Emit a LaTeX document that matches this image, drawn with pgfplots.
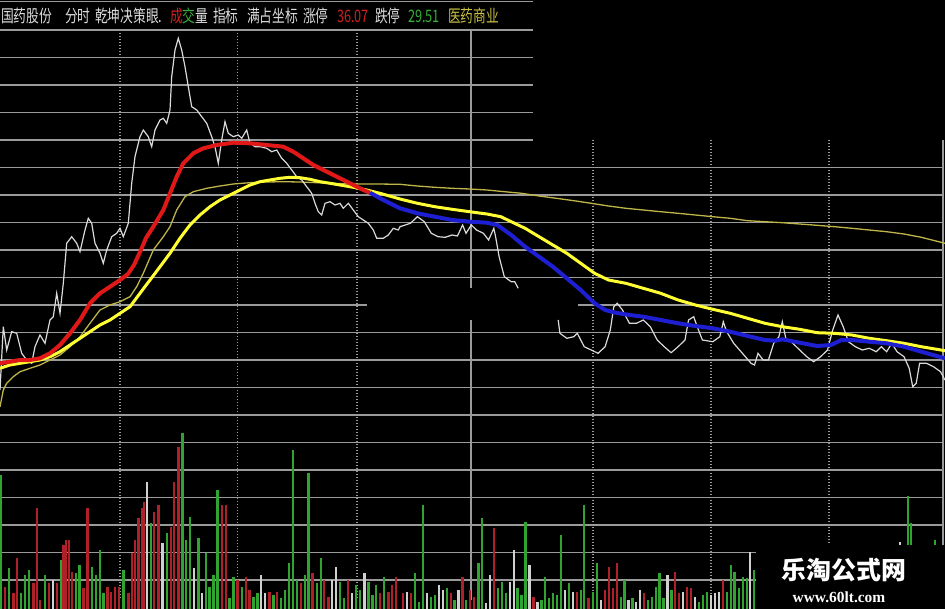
\documentclass[border=0pt]{standalone}
\usepackage{pgfplots}
\pgfplotsset{compat=1.18}
\usepackage{fontspec}
\newfontfamily\cjk{Noto Sans CJK SC}
\newfontfamily\wmserif{Liberation Serif}
\definecolor{gridc}{HTML}{9A9A9A}
\definecolor{pricec}{HTML}{DADADA}
\definecolor{redl}{HTML}{E01818}
\definecolor{bluel}{HTML}{1E1ED2}
\definecolor{yell}{HTML}{FFFF33}
\definecolor{olivel}{HTML}{BDB548}
\definecolor{volr}{HTML}{B02028}
\definecolor{volg}{HTML}{2FA52F}
\definecolor{volw}{HTML}{D0D0D0}
\definecolor{hdr}{HTML}{DCDCDC}
\definecolor{hred}{HTML}{D02020}
\definecolor{hgreen}{HTML}{38B038}
\definecolor{hyel}{HTML}{C8C040}
\begin{document}
\begin{tikzpicture}
\fill[black] (0,0) rectangle (945bp,609bp);
\begin{scope}[yshift=609bp,x=1bp,y=-1bp,color=gridc,line width=1.6bp]
 \foreach \y in {1.5,30,57.5,85,112.5,140} \draw (0,\y) -- (533,\y);
 \foreach \y in {167.5,195,222.5,250,277.5,332.5,360,387.5,415,442.5,470,497.5,525,552.5,580} \draw (0,\y) -- (943,\y);
 \draw (0,305) -- (367,305); \draw (578,305) -- (943,305);
 \foreach \x in {120,237.5,357} \draw[line width=1.3bp, dash pattern=on 1.5bp off 1.5bp] (\x,30) -- (\x,600);
 \foreach \x in {593,711,829} \draw[line width=1.3bp, dash pattern=on 1.5bp off 1.5bp] (\x,140) -- (\x,600);
 \draw (471,30) -- (471,288); \draw (471,320) -- (471,600);
 \draw (943,140) -- (943,609);
\end{scope}
\begin{axis}[scale only axis, width=945bp, height=609bp, xmin=0, xmax=945, ymin=0, ymax=609, y dir=reverse, hide axis]
\addplot[olivel, line width=1.3bp] coordinates {(0,406.7) (3.3,390) (6.7,383.3) (13.3,376.7) (20,371.7) (30,368.3) (40,365) (50,360) (60,355) (70,346.7) (80,336.7) (90,323.3) (100,310) (110,305) (120,301.7) (130,296.7) (136.7,286.7) (143.3,273.3) (153.3,250) (163.3,236.7) (170,226.7) (176.7,210) (185,196.7) (193.3,191.7) (206.7,188.3) (220,186) (233.3,184) (250,182.7) (266.7,182) (283.3,181.7) (300,182) (316.7,182.7) (333.3,183.3) (350,184) (366.7,184) (376.7,184) (400,184.3) (417.4,186) (434.8,187.3) (452.1,188.3) (469.5,189) (486.9,190) (504.3,191.7) (521.7,193.3) (539,196) (556.4,198.3) (573.8,200.7) (591.2,203.3) (608.5,206) (625.9,208.3) (643.3,210) (660.7,211.7) (678.1,213.3) (695.4,215) (712.8,216.7) (730.2,218.3) (747.6,220.7) (765,221.7) (782.3,222.7) (799.7,224) (817.1,225.3) (834.5,226.7) (851.9,228.3) (869.2,230) (886.6,231.7) (904,234) (921.3,237.3) (945,243.3)};
\addplot[pricec, line width=1.2bp] coordinates {(0,390) (3.3,326.7) (6.7,350) (11.7,331.7) (16.7,333.3) (21.7,353.3) (26.7,360) (31.7,363.3) (35,346.7) (40,335) (45,343.3) (50,320) (53.3,316.7) (56.7,293.3) (60,313.3) (63.3,283.3) (66.7,243.3) (71.7,236.7) (76.7,243.3) (80,251.7) (85,230) (88.3,218.3) (91.7,223.3) (95,243.3) (100,253.3) (103.3,263.3) (106.7,250) (111.7,236.7) (116.7,233.3) (120,228.3) (123.3,236.7) (128.3,223.3) (131.7,183.3) (135,156.7) (140,136.7) (143.3,130) (148.3,136.7) (151.7,146.7) (155,130) (160,120) (163.3,118.3) (166.7,123.3) (170,110) (171.7,76.7) (175,50) (178.3,38.3) (181.7,50) (185,66.7) (188.3,86.7) (191.7,106.7) (196.7,110) (201.7,116.7) (206.7,123.3) (211.7,136.7) (215,146.7) (218.3,163.3) (221.7,140) (225,121.7) (228.3,133.3) (233.3,136.7) (238.3,135) (241.7,138.3) (246.7,130) (250,143.3) (255,146.7) (260,146.7) (266.7,148.3) (271.7,151.7) (276.7,150) (281.7,158.3) (286.7,163.3) (291.7,170) (296.7,176.7) (301.7,180) (306.7,186.7) (311.7,193.3) (315,203.3) (318.3,211.7) (321.7,215) (325,203.3) (330,201.7) (335,205) (340,203.3) (343.3,208.3) (348.3,203.3) (353.3,210) (358.3,216.7) (363.3,220) (368.3,223.3) (373.3,230) (376.7,238.3) (383.3,238.3) (388.3,235) (393.3,228.3) (398.3,230) (400,226.7) (410.4,223.3) (417.4,216.7) (424.3,221.7) (431.3,233.3) (438.2,236.7) (445.2,237.3) (452.1,235) (457.4,236) (462.6,225) (466,233.3) (471.3,225) (476.5,230) (483.4,233.3) (488.6,240) (493.8,228.3) (495.6,236.7) (499.1,256.7) (504.3,276.7) (511.2,281.7) (514.7,281.7) (518.2,288.3)};
\addplot[pricec, line width=1.2bp] coordinates {(558.2,320) (559.9,333.3) (566.8,338.3) (573.8,336.7) (577.3,333.3) (584.2,346.7) (591.2,350) (598.1,353.3) (605.1,346.7) (610.3,330) (613.8,306.7) (617.2,303.3) (622.5,310) (629.4,323.3) (636.4,323.3) (643.3,320) (650.3,326.7) (657.2,340) (664.2,346.7) (671.1,352.7) (678.1,346.7) (685,340) (688.5,320) (693.7,316.7) (697.2,326.7) (702.4,340) (712.8,341.7) (719.8,336.7) (723.3,321.7) (726.7,331.7) (733.7,343.3) (742.4,353.3) (751.1,363.3) (754.5,365) (758,353.3) (763.2,360) (768.4,360) (773.7,343.3) (778.9,336.7) (782.3,321.7) (785.8,338.3) (792.8,343.3) (799.7,350) (806.7,356.7) (813.6,361.7) (820.6,356.7) (827.5,350) (832.7,330) (838,315) (843.2,326.7) (848.4,341.7) (855.3,346.7) (862.3,350) (869.2,348.3) (876.2,351.7) (881.4,346.7) (886.6,351.7) (891.8,343.3) (897,351.7) (904,356.7) (909.2,368.3) (912.7,386.7) (916.2,383.3) (919.6,363.3) (926.6,363.3) (933.5,366.7) (940.5,371.7) (945,380)};
\addplot[yell, line width=3bp] coordinates {(0,368.3) (10,365) (20,363.3) (30,361.7) (40,360) (50,356.7) (60,351.7) (70,345) (80,338.3) (90,331.7) (100,325) (110,320) (120,313.3) (130,306.7) (140,293.3) (150,280) (160,266.7) (170,253.3) (180,238.3) (190,225) (200,215) (210,206.7) (220,200) (230,195) (240,190) (250,185) (260,181.7) (270,180) (280,178.3) (290,177.3) (300,177.7) (310,179.3) (320,181.7) (330,183.3) (340,185) (353.3,187.3) (366.7,190) (380,193.3) (400,199) (417.4,203.3) (434.8,206.7) (452.1,209.3) (469.5,211.7) (486.9,214) (500.8,216.7) (511.2,221.7) (525.1,228.3) (539,236.7) (552.9,245) (566.8,253.3) (580.7,263.3) (594.6,273.3) (608.5,280) (625.9,283.3) (643.3,288.3) (660.7,293.3) (678.1,300) (695.4,305) (712.8,309.3) (730.2,313.3) (747.6,318.3) (765,323.3) (782.3,326.7) (799.7,329.3) (817.1,332.7) (834.5,333.3) (851.9,335) (869.2,338.3) (886.6,340.7) (904,343.3) (921.3,346.7) (945,350.7)};
\addplot[redl, line width=4bp] coordinates {(0,363.3) (10,361.7) (20,360) (30,360) (40,358.3) (50,353.3) (60,345) (70,333.3) (80,320) (90,303.3) (100,293.3) (110,286.7) (120,280) (128,274) (134,265) (140,252) (146,238) (153.3,226.7) (163.3,210) (170,193.3) (176.7,176.7) (183.3,163.3) (193.3,153.3) (203.3,148.3) (216.7,145) (233.3,142.7) (250,143.3) (266.7,145) (283.3,146.7) (293.3,151.7) (303.3,158.3) (313.3,165) (323.3,170) (336.7,176.7) (350,183.3) (363.3,190) (370,192.7)};
\addplot[bluel, line width=4bp] coordinates {(370,192.7) (383.3,200) (400,208.3) (417.4,213.3) (434.8,216.7) (452.1,220) (469.5,221.7) (486.9,222.7) (497.3,225) (511.2,235) (525.1,246.7) (539,256.7) (552.9,266.7) (566.8,278.3) (580.7,290) (594.6,303.3) (605.1,310) (615.5,312.7) (629.4,315) (643.3,316.7) (660.7,320) (678.1,323.3) (695.4,326) (712.8,328.3) (730.2,331.7) (747.6,336) (765,340) (775.4,340.7) (782.3,339.3) (799.7,342.7) (817.1,346) (831,345) (841.4,340) (851.9,340) (869.2,341.7) (886.6,343.3) (904,346.7) (921.3,351.7) (945,358.3)};
\end{axis}
\begin{axis}[scale only axis, width=945bp, height=609bp, xmin=0, xmax=945, ymin=0, ymax=609, hide axis]
\addplot[ycomb, volr, line width=2.4bp] coordinates {(5,22.3) (13.3,15.7) (16.7,50.7) (33.3,25.7) (36.7,100.7) (40,9) (49,25.7) (56.7,25.7) (63.3,64) (66,69) (69,69) (71.7,37.3) (83.3,20.7) (87.3,100.7) (107.3,22.3) (111,17.3) (115,22.3) (119,22.3) (128.3,15.7) (131.7,55.7) (135,69) (138.3,90.7) (141.7,100.7) (144,107.3) (154,97.3) (158.3,104) (170.7,82.3) (174,127.3) (178.3,162.3) (221.7,104) (225.7,104) (237.3,29) (245.7,32.3) (249.3,19) (269.3,17.3) (276.7,17.3) (300.7,25.7) (312.3,35.7) (324,29) (328.3,12.3) (347.7,29) (380,15.7) (388.3,17.3) (391.7,24) (396,32.3) (402.7,15.7) (410.7,15.7) (450.7,15.7) (462.3,32.3) (470,19) (474,12.3) (494,80.7) (533.3,12.3) (576.7,17.3) (588.3,10.7) (604.7,19) (608.7,42.3) (612.7,20.7) (616.7,45.7) (644,15.7) (675,37.3) (679,15.7) (686.7,22.3) (690.7,20.7) (722.7,29)};
\addplot[ycomb, volg, line width=2.4bp] coordinates {(1,134) (9,40.7) (20.7,15.7) (25,34) (29,39) (45,34) (60.7,49) (76,35.7) (79.3,44) (91.7,42.3) (95.7,34) (100,59) (103.3,15.7) (123.3,39) (150.7,85.7) (166.7,75.7) (182.3,175.7) (186,69) (190,92.3) (198.3,70.7) (205.7,55.7) (209.3,22.3) (213.3,34) (217.3,119) (229.3,10.7) (233.3,32.3) (241.7,22.3) (253.3,12.3) (257.3,15.7) (273.3,14) (281,10.7) (285,19) (289,45.7) (292.7,159) (296.7,29) (305,34) (308.3,135.7) (316.7,25.7) (320.7,50.7) (340,27.3) (344,10.7) (356,24) (360,19) (368.3,27.3) (372.3,14) (376,24) (384,32.3) (414.7,35.7) (418.7,7.3) (422.7,104) (430.7,12.3) (434.7,14) (446.7,20.7) (454.3,9) (466,9) (478.3,45.7) (482,90.7) (498,20.7) (502,27.3) (506,15.7) (517.3,20.7) (521.3,14) (525.3,87.3) (541.3,9) (545,32.3) (549,10.7) (553,15.7) (557,14) (561,74) (568.7,25.7) (580.7,19) (584,104) (592.7,17.3) (596.7,45.7) (620.7,12.3) (624.3,29) (632.3,10.7) (648,9) (652,12.3) (656,22.3) (659.3,35.7) (663.3,10.7) (671.3,19) (698.7,7.3) (702.7,14) (706.7,17.3) (726.7,17.3) (730.7,44) (734.3,37.3) (738.7,20.7) (742.7,32.3) (746.7,30.7) (754,39) (908,113) (911,86) (935,69)};
\addplot[ycomb, volw, line width=2.4bp] coordinates {(52.7,29) (146.7,127.3) (162.3,65.7) (194,40.7) (201.7,15.7) (261,34) (265,15.7) (331.7,29) (336,42.3) (351.7,15.7) (364.3,35.7) (406.7,17.3) (426.7,15.7) (438.7,24) (442.7,19) (458.3,19) (486,5.7) (490,34) (510,27.3) (513.7,59) (529.3,44) (537.3,7.3) (565,19) (572.7,17.3) (600.7,9) (628.3,9) (636,7.3) (640,19) (667.3,34) (682.7,17.3) (694.7,12.3) (710.7,14) (714.7,15.7) (718.7,17.3) (750,57.3) (900,67)};
\end{axis}
\begin{scope}[yshift=609bp,x=1bp,y=-1bp]
 \fill[black] (756,545) rectangle (945,609);
 \node[white, inner sep=0pt, font=\cjk\bfseries\fontsize{25}{25}\selectfont] at (844,570) {乐淘公式网};
 \node[white, inner sep=0pt, font=\wmserif\bfseries\fontsize{15.5}{15.5}\selectfont] at (839,597) {www.60lt.com};
 \begin{scope}[every node/.style={anchor=west, inner sep=0pt, font=\cjk\fontsize{12.8}{12.8}\selectfont}]
  \node[hdr] at (1,16) {\scalebox{1}[1.35]{国药股份}};
  \node[hdr] at (65,16) {\scalebox{1}[1.35]{分时}};
  \node[hdr] at (95,16) {\scalebox{1}[1.35]{乾坤决策眼.}};
  \node[hred] at (170,16) {\scalebox{1}[1.35]{成}};
  \node[hgreen] at (182.5,16) {\scalebox{1}[1.35]{交}};
  \node[hdr] at (195,16) {\scalebox{1}[1.35]{量}};
  \node[hdr] at (213,16) {\scalebox{1}[1.35]{指标}};
  \node[hdr] at (247,16) {\scalebox{1}[1.35]{满占坐标}};
  \node[hdr] at (303,16) {\scalebox{1}[1.35]{涨停}};
  \node[hred] at (337,16) {\scalebox{1}[1.35]{36.07}};
  \node[hdr] at (375,16) {\scalebox{1}[1.35]{跌停}};
  \node[hgreen] at (408,16) {\scalebox{1}[1.35]{29.51}};
  \node[hyel] at (448,16) {\scalebox{1}[1.35]{医药商业}};
 \end{scope}
\end{scope}
\pgfresetboundingbox
\path[use as bounding box] (0,0) rectangle (945bp,609bp);
\end{tikzpicture}
\end{document}
